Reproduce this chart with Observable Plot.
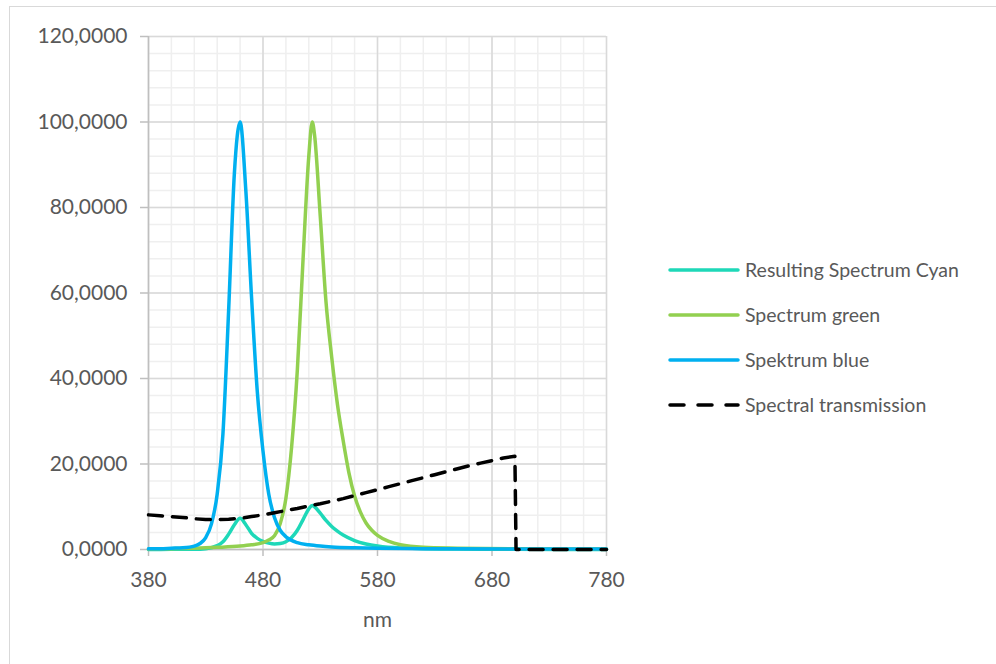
<!DOCTYPE html>
<html>
<head>
<meta charset="utf-8">
<script src="https://cdn.jsdelivr.net/npm/d3@7"></script>
<script src="https://cdn.jsdelivr.net/npm/@observablehq/plot@0.6"></script>
<style>
  html, body { margin: 0; padding: 0; background: #fff; }
  #wrap { position: relative; width: 996px; height: 664px; overflow: hidden; font-family: Lato, "Open Sans", sans-serif; }
  #border { position: absolute; left: 9px; top: 6px; width: 1100px; height: 800px; border: 1px solid #d9d9d9; box-sizing: border-box; pointer-events: none; }
  #legend { position: absolute; left: 668px; top: 247px; color: #595959; font-size: 19.5px; }
  .row { height: 45px; display: flex; align-items: center; }
  .row svg { display: block; margin-right: 5px; }
</style>
</head>
<body>
<div id="wrap">
  <div id="border"></div>
  <div id="chart"></div>
  <div id="legend"></div>
</div>
<script>
// ---- data ----
const seriesNames = ["Resulting Spectrum Cyan", "Spectrum green", "Spektrum blue", "Spectral transmission"];

const cyanNm  = [380,400,420,430,440,445,450,455,460,465,470,475,480,485,490,495,500,505,510,515,520,523,525,530,535,540,545,550,560,570,580,600,650,700,780];
const cyanVal = [0.02,0.03,0.06,0.2,0.9,1.8,3.6,5.8,7.3,5.8,3.8,2.6,1.9,1.5,1.3,1.4,1.8,2.8,4.5,7.0,9.5,10.3,10.0,8.5,6.8,5.4,4.3,3.4,2.1,1.3,0.8,0.35,0.1,0.05,0];

const greenNm  = [380,400,420,440,460,470,480,485,490,495,500,505,510,515,520,523,525,530,535,540,545,550,555,560,565,570,575,580,590,600,620,650,700,780];
const greenVal = [0.1,0.2,0.3,0.5,0.8,1.1,1.6,2.2,3.2,6,12,24,42,68,92,100,97,78,58,45,34,25.5,18,12.5,8.8,6.2,4.5,3.3,1.9,1.1,0.5,0.3,0.15,0.1];

const blueNm  = [380,390,400,410,420,425,430,435,440,445,450,455,460,465,470,475,480,485,490,495,500,510,520,530,540,560,580,620,700,780];
const blueVal = [0.2,0.2,0.3,0.4,0.8,1.4,2.8,6,13,27,56,88,100,84,59,37,23,13,7.5,4.5,3,1.6,1.1,0.8,0.6,0.4,0.3,0.2,0.1,0.1];

const transNm  = [380,390,400,410,420,430,440,450,460,470,480,490,500,510,520,530,540,550,560,570,580,590,600,610,620,630,640,650,660,670,680,690,700,701,780];
const transVal = [8.1,7.9,7.7,7.5,7.2,7.0,7.0,7.1,7.3,7.7,8.1,8.6,9.1,9.6,10.2,10.7,11.3,11.9,12.6,13.3,14.0,14.7,15.4,16.1,16.8,17.5,18.2,18.9,19.6,20.2,20.8,21.4,21.8,0,0];

const xTicks = [380,480,580,680,780];
const yTicks = [0,20,40,60,80,100,120];
const xLabel = "nm";

// ---- build tables ----
const zip = (xs, ys) => xs.map((x, i) => ({x, y: ys[i]}));
const cyan = zip(cyanNm, cyanVal);
const green = zip(greenNm, greenVal);
const blue = zip(blueNm, blueVal);
const trans = zip(transNm, transVal);

const colors = {cyan: "#1ED8B8", green: "#92D050", blue: "#00B0F0", trans: "#000000"};
const minorX = d3.range(380, 781, 20);
const minorY = d3.range(0, 121, 4);
const fmt = d => d.toFixed(4).replace(".", ",");

const chart = Plot.plot({
  width: 996,
  height: 664,
  marginLeft: 148,
  marginRight: 390,
  marginTop: 36,
  marginBottom: 115,
  style: {fontFamily: "Lato, 'Open Sans', sans-serif", fontSize: "21px", color: "#595959", background: "transparent"},
  x: {domain: [380, 780]},
  y: {domain: [0, 120]},
  marks: [
    Plot.gridX(minorX, {stroke: "#efefef", strokeOpacity: 1, strokeWidth: 1.5}),
    Plot.gridY(minorY, {stroke: "#efefef", strokeOpacity: 1, strokeWidth: 1.5}),
    Plot.gridX(xTicks, {stroke: "#d9d9d9", strokeOpacity: 1, strokeWidth: 1.5}),
    Plot.gridY(yTicks, {stroke: "#d9d9d9", strokeOpacity: 1, strokeWidth: 1.5}),
    Plot.ruleX([380], {stroke: "#bfbfbf", strokeWidth: 1.5}),
    Plot.ruleY([0], {stroke: "#bfbfbf", strokeWidth: 1.5}),
    Plot.axisY(yTicks, {tickSize: 8, tickPadding: 13, tickFormat: fmt, stroke: "#bfbfbf", strokeWidth: 1.5, fill: "#595959", fontSize: 21, label: null}),
    Plot.axisX(xTicks, {tickSize: 7, tickPadding: 16, tickFormat: d => String(d), stroke: "#bfbfbf", strokeWidth: 1.5, fill: "#595959", fontSize: 21, label: null}),
    Plot.text([xLabel], {frameAnchor: "bottom", dy: 71, fill: "#595959", fontSize: 21, lineAnchor: "middle"}),
    Plot.line(cyan, {x: "x", y: "y", stroke: colors.cyan, strokeWidth: 3.5, curve: "monotone-x"}),
    Plot.line(green, {x: "x", y: "y", stroke: colors.green, strokeWidth: 3.5, curve: "monotone-x"}),
    Plot.line(blue, {x: "x", y: "y", stroke: colors.blue, strokeWidth: 3.5, curve: "monotone-x"}),
    Plot.line(trans, {x: "x", y: "y", stroke: colors.trans, strokeWidth: 3.5, strokeDasharray: "14,10", curve: "linear"})
  ]
});
document.getElementById("chart").appendChild(chart);

// ---- legend ----
const legendItems = [
  {name: seriesNames[0], color: colors.cyan, dash: null},
  {name: seriesNames[1], color: colors.green, dash: null},
  {name: seriesNames[2], color: colors.blue, dash: null},
  {name: seriesNames[3], color: colors.trans, dash: "14,14"}
];
const legend = document.getElementById("legend");
for (const it of legendItems) {
  const row = document.createElement("div");
  row.className = "row";
  row.innerHTML = `<svg width="72" height="10"><line x1="2" y1="5" x2="70" y2="5" stroke="${it.color}" stroke-width="3.5" stroke-linecap="round" ${it.dash ? `stroke-dasharray="${it.dash}"` : ""}/></svg><span>${it.name}</span>`;
  legend.appendChild(row);
}
</script>
</body>
</html>
